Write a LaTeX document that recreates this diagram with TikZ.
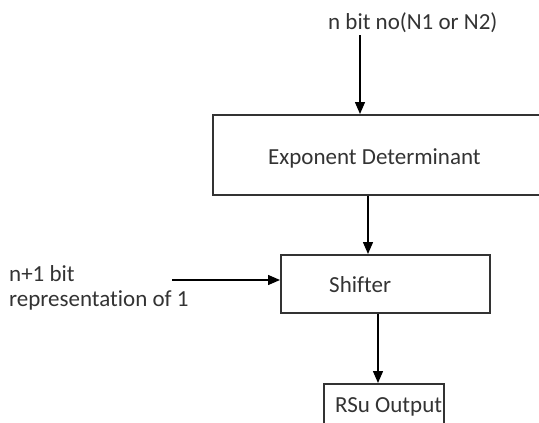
\documentclass[tikz,border=0pt]{standalone}
\usepackage{fontspec}
\setmainfont{Carlito}[Ligatures={NoCommon}]
\usetikzlibrary{arrows.meta}
\begin{document}
\begin{tikzpicture}[x=1pt,y=-1pt,
  box/.style={draw=black!80,line width=1.5pt,rectangle,inner sep=0pt,anchor=north west},
  lbl/.style={anchor=base west,inner sep=0pt,text=black!80,font=\fontsize{23}{26}\selectfont},
  conn/.style={draw=black,line width=1.4pt,-{Triangle[length=12pt,width=10pt]}}]
\useasboundingbox (0,0) rectangle (539,423);
\clip (0,0) rectangle (539,423);
\fill[white] (0,0) rectangle (539,423);
% boxes
\node[box,minimum width=340pt,minimum height=80pt] (exp) at (212,114) {};
\node[box,minimum width=209pt,minimum height=58pt] (shf) at (280,254) {};
\node[box,minimum width=120pt,minimum height=50pt] (rsu) at (323,383) {};
% texts
\node[lbl] (tin) at (328,29) {n bit no(N1 or N2)};
\node[lbl] (texp) at (268,164) {Exponent Determinant};
\node[lbl] (tshf) at (329,292) {Shifter};
\node[lbl] (trsu) at (335,412) {RSu Output};
\node[lbl] (tl1) at (9,281) {n+1 bit};
\node[lbl] (tl2) at (9,306) {representation of 1};
% connector endpoints
\coordinate (a0) at (360,35);
\coordinate (b0) at (172,280);
% connectors
\draw[conn] (a0) -- (a0 |- exp.north);
\draw[conn] (368,0 |- exp.south) -- (368,0 |- shf.north);
\draw[conn] (b0) -- (b0 -| shf.west);
\draw[conn] (378,0 |- shf.south) -- (378,0 |- rsu.north);
\end{tikzpicture}
\end{document}
